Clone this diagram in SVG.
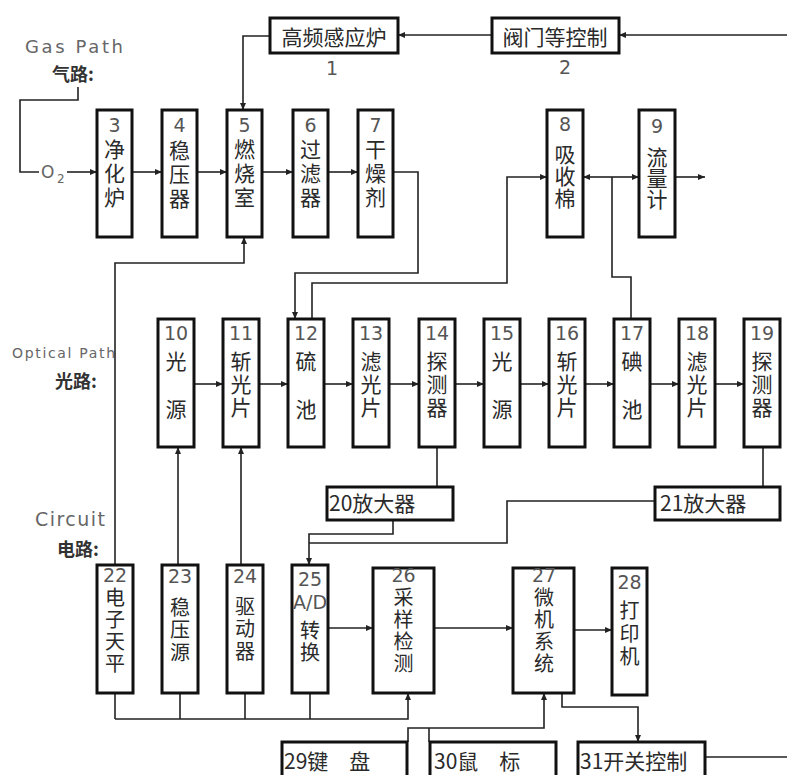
<svg xmlns="http://www.w3.org/2000/svg" width="787" height="775" viewBox="0 0 787 775">
<style>
.bx{fill:#fff;stroke:#111;stroke-width:3}
.ln{fill:none;stroke:#222;stroke-width:1.6}
.ar{marker-end:url(#a)}
.v{font-family:"Noto Sans CJK SC",sans-serif;font-size:21px;fill:#2a2a2a;writing-mode:vertical-rl;text-anchor:start}
.vs{font-family:"Noto Sans CJK SC",sans-serif;font-size:20px;fill:#2a2a2a;writing-mode:vertical-rl;text-anchor:start}
.nm{font-family:"DejaVu Sans",sans-serif;font-size:19px;fill:#555;text-anchor:middle}
.hd{font-family:"Noto Sans CJK SC",sans-serif;font-size:21px;fill:#2a2a2a}
.en{font-family:"DejaVu Sans",sans-serif;fill:#666}
.lb{font-family:"Noto Sans CJK SC",sans-serif;font-size:18px;font-weight:bold;fill:#333}
</style>
<defs>
<marker id="a" markerWidth="8" markerHeight="8" refX="7" refY="4" orient="auto" markerUnits="userSpaceOnUse"><path d="M0,1 L7,4 L0,7 z" fill="#222"/></marker>
</defs>
<rect width="787" height="775" fill="#fff"/>

<g id="labels">
<text class="en" x="25" y="53" font-size="18" textLength="98">Gas Path</text>
<text class="lb" x="52" y="81">气路:</text>
<text class="en" x="12" y="358" font-size="14" textLength="103">Optical Path</text>
<text class="lb" x="55" y="388">光路:</text>
<text class="en" x="35" y="526" font-size="19" textLength="70">Circuit</text>
<text class="lb" x="57" y="556">电路:</text>
<text class="en" x="41" y="178" font-size="17" fill="#333">O<tspan font-size="12" x="57" y="183">2</tspan></text>
</g>

<g id="connectors">
<path class="ln" d="M78,87 V100 H20 V172 H39"/>
<path class="ln ar" d="M67,172 H97"/>
<path class="ln ar" d="M132,172 H162"/>
<path class="ln ar" d="M197,172 H227"/>
<path class="ln ar" d="M262,172 H293"/>
<path class="ln ar" d="M328,172 H358"/>
<path class="ln ar" d="M787,35 H619"/>
<path class="ln ar" d="M492,35 H398"/>
<path class="ln ar" d="M270,36 H243 V110"/>
<path class="ln ar" d="M115,565 V263 H244 V237"/>
<path class="ln ar" d="M393,172 H418 V273 H295 V319"/>
<path class="ln ar" d="M312,319 V283 H507 V177 H547"/>
<path class="ln" d="M631,319 V277 H612 V177"/>
<path class="ln ar" d="M612,177 H583"/>
<path class="ln ar" d="M612,177 H639"/>
<path class="ln ar" d="M675,177 H705"/>
<path class="ln ar" d="M194,384 H223"/>
<path class="ln ar" d="M259,384 H288"/>
<path class="ln ar" d="M324,384 H353"/>
<path class="ln ar" d="M389,384 H419"/>
<path class="ln ar" d="M455,384 H484"/>
<path class="ln ar" d="M520,384 H549"/>
<path class="ln ar" d="M585,384 H614"/>
<path class="ln ar" d="M650,384 H679"/>
<path class="ln ar" d="M715,384 H744"/>
<path class="ln ar" d="M178,565 V447"/>
<path class="ln ar" d="M241,565 V447"/>
<path class="ln" d="M437,447 V487"/>
<path class="ln" d="M763,447 V487"/>
<path class="ln ar" d="M393,520 V534 H309 V565"/>
<path class="ln" d="M655,501 H507 V543 H309"/>
<path class="ln ar" d="M328,628 H373"/>
<path class="ln ar" d="M434,628 H513"/>
<path class="ln ar" d="M574,630 H612"/>
<path class="ln" d="M115,693 V719 M180,693 V719 M245,693 V719 M310,693 V719"/>
<path class="ln ar" d="M115,719 H408 V693"/>
<path class="ln ar" d="M408,742 V728 H544 V693"/>
<path class="ln" d="M429,742 V728"/>
<path class="ln ar" d="M562,693 V707 H638 V742"/>
<path class="ln" d="M705,757 H787"/>
</g>

<g id="n1"><rect class="bx" x="270" y="18" width="128" height="35"/><text class="hd" x="334" y="45" text-anchor="middle">高频感应炉</text><text class="nm" x="332" y="75" font-size="16">1</text></g>
<g id="n2"><rect class="bx" x="492" y="18" width="127" height="35"/><text class="hd" x="555" y="45" text-anchor="middle">阀门等控制</text><text class="nm" x="565" y="74" font-size="16">2</text></g>

<g id="n3"><rect class="bx" x="97" y="110" width="35" height="127"/><text class="nm" x="114.5" y="132">3</text><text class="v" x="114.5" y="139" letter-spacing="3">净化炉</text></g>
<g id="n4"><rect class="bx" x="162" y="110" width="35" height="127"/><text class="nm" x="179.5" y="132">4</text><text class="v" x="179.5" y="140" letter-spacing="3">稳压器</text></g>
<g id="n5"><rect class="bx" x="227" y="110" width="35" height="127"/><text class="nm" x="244.5" y="132">5</text><text class="v" x="244.5" y="139" letter-spacing="3">燃烧室</text></g>
<g id="n6"><rect class="bx" x="293" y="110" width="35" height="127"/><text class="nm" x="310.5" y="132">6</text><text class="v" x="310.5" y="139" letter-spacing="3">过滤器</text></g>
<g id="n7"><rect class="bx" x="358" y="110" width="35" height="127"/><text class="nm" x="375.5" y="132">7</text><text class="v" x="375.5" y="139" letter-spacing="3">干燥剂</text></g>
<g id="n8"><rect class="bx" x="547" y="110" width="36" height="127"/><text class="nm" x="565" y="131">8</text><text class="v" x="565" y="144" letter-spacing="1">吸收棉</text></g>
<g id="n9"><rect class="bx" x="639" y="110" width="36" height="127"/><text class="nm" x="657" y="133">9</text><text class="v" x="657" y="147" letter-spacing="0">流量计</text></g>

<g id="n10"><rect class="bx" x="158" y="319" width="36" height="128"/><text class="nm" font-size="20" x="176" y="340">10</text><text class="v" x="176" y="351" letter-spacing="3">光　源</text></g>
<g id="n11"><rect class="bx" x="223" y="319" width="36" height="128"/><text class="nm" font-size="20" x="241" y="340">11</text><text class="v" x="241" y="351" letter-spacing="2">斩光片</text></g>
<g id="n12"><rect class="bx" x="288" y="319" width="36" height="128"/><text class="nm" font-size="20" x="306" y="340">12</text><text class="v" x="306" y="351" letter-spacing="3">硫　池</text></g>
<g id="n13"><rect class="bx" x="353" y="319" width="36" height="128"/><text class="nm" font-size="20" x="371" y="340">13</text><text class="v" x="371" y="351" letter-spacing="2">滤光片</text></g>
<g id="n14"><rect class="bx" x="419" y="319" width="36" height="128"/><text class="nm" font-size="20" x="437" y="340">14</text><text class="v" x="437" y="351" letter-spacing="2">探测器</text></g>
<g id="n15"><rect class="bx" x="484" y="319" width="36" height="128"/><text class="nm" font-size="20" x="502" y="340">15</text><text class="v" x="502" y="351" letter-spacing="3">光　源</text></g>
<g id="n16"><rect class="bx" x="549" y="319" width="36" height="128"/><text class="nm" font-size="20" x="567" y="340">16</text><text class="v" x="567" y="351" letter-spacing="2">斩光片</text></g>
<g id="n17"><rect class="bx" x="614" y="319" width="36" height="128"/><text class="nm" font-size="20" x="632" y="340">17</text><text class="v" x="632" y="351" letter-spacing="3">碘　池</text></g>
<g id="n18"><rect class="bx" x="679" y="319" width="36" height="128"/><text class="nm" font-size="20" x="697" y="340">18</text><text class="v" x="697" y="351" letter-spacing="2">滤光片</text></g>
<g id="n19"><rect class="bx" x="744" y="319" width="36" height="128"/><text class="nm" font-size="20" x="762" y="340">19</text><text class="v" x="762" y="351" letter-spacing="2">探测器</text></g>

<g id="n20"><rect class="bx" x="327" y="487" width="126" height="33"/><text class="hd" x="329" y="511">20放大器</text></g>
<g id="n21"><rect class="bx" x="655" y="487" width="125" height="33"/><text class="hd" x="660" y="511">21放大器</text></g>

<g id="n22"><rect class="bx" x="97" y="565" width="36" height="128"/><text class="nm" font-size="18" x="115" y="582">22</text><text class="vs" x="115" y="587" letter-spacing="2">电子天平</text></g>
<g id="n23"><rect class="bx" x="162" y="565" width="36" height="128"/><text class="nm" font-size="18" x="180" y="583">23</text><text class="vs" x="180" y="597" letter-spacing="2.5">稳压源</text></g>
<g id="n24"><rect class="bx" x="227" y="565" width="36" height="128"/><text class="nm" font-size="18" x="245" y="583">24</text><text class="vs" x="245" y="596" letter-spacing="2.5">驱动器</text></g>
<g id="n25"><rect class="bx" x="292" y="565" width="36" height="128"/><text class="nm" font-size="18" x="310" y="586">25</text><text class="nm" font-size="15" x="310" y="609">A/D</text><text class="vs" x="310" y="620" letter-spacing="2">转换</text></g>
<g id="n26"><rect class="bx" x="373" y="568" width="61" height="125"/><text class="nm" font-size="18" x="403.5" y="582">26</text><text class="vs" x="403.5" y="587" letter-spacing="2">采样检测</text></g>
<g id="n27"><rect class="bx" x="513" y="568" width="61" height="125"/><text class="nm" font-size="18" x="544" y="582">27</text><text class="vs" x="544" y="587" letter-spacing="2">微机系统</text></g>
<g id="n28"><rect class="bx" x="612" y="568" width="35" height="127"/><text class="nm" font-size="18" x="629.5" y="589">28</text><text class="vs" x="629.5" y="600" letter-spacing="3">打印机</text></g>

<g id="n29"><rect class="bx" x="282" y="742" width="125" height="50"/><text class="hd" x="284" y="769" font-size="20">29键　盘</text></g>
<g id="n30"><rect class="bx" x="430" y="742" width="126" height="50"/><text class="hd" x="434" y="769" font-size="20">30鼠　标</text></g>
<g id="n31"><rect class="bx" x="578" y="742" width="127" height="50"/><text class="hd" x="580" y="769" font-size="20">31开关控制</text></g>
</svg>
